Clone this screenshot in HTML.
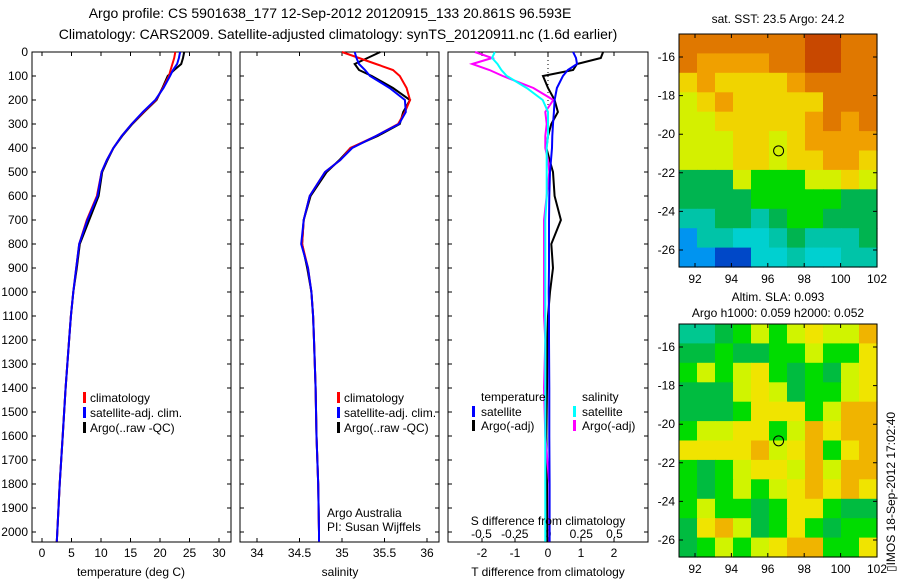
<!DOCTYPE html>
<html><head><meta charset="utf-8"><style>
body{margin:0;background:#fff;}
svg{display:block;font-family:"Liberation Sans",sans-serif;}
</style></head><body>
<svg id="fig" width="900" height="580" viewBox="0 0 900 580">
<text x="330" y="18" font-size="14" text-anchor="middle">Argo profile: CS 5901638_177 12-Sep-2012 20120915_133 20.861S 96.593E</text>
<text x="338" y="39" font-size="14" text-anchor="middle">Climatology: CARS2009. Satellite-adjusted climatology: synTS_20120911.nc (1.6d earlier)</text>
<g id="p1"></g>
<g id="p2"></g>
<g id="p3"></g>
<g id="m1"></g>
<g id="m2"></g>
<text x="778" y="23" font-size="12" text-anchor="middle">sat. SST: 23.5 Argo: 24.2</text>
<text x="778" y="301" font-size="12" text-anchor="middle">Altim. SLA: 0.093</text>
<text x="778" y="317" font-size="12" text-anchor="middle">Argo h1000: 0.059 h2000: 0.052</text>
<text transform="translate(895,572) rotate(-90)" font-size="12">▯IMOS 18-Sep-2012 17:02:40</text>
</svg>
<script>
// ---- data ----
const depths = [0,25,50,75,100,150,200,250,300,350,400,450,500,600,700,800,900,1000,1100,1200,1400,1600,1800,2000,2040];
const tempClim = [22.6,22.4,22.1,21.8,21.5,20.5,19.3,17.2,15.2,13.5,12.1,11.0,10.1,9.3,7.6,6.3,5.8,5.3,4.9,4.6,4.0,3.5,3.0,2.6,2.5];
const tempSat = [23.4,23.2,22.9,22.2,21.7,20.6,19.2,17.1,15.2,13.5,12.1,11.0,10.1,9.4,7.7,6.3,5.8,5.3,4.9,4.6,4.0,3.5,3.0,2.6,2.5];
const tempArgo = [24.1,23.9,23.6,22.4,21.3,20.4,19.4,17.3,15.3,13.6,12.1,11.1,10.2,9.6,8.0,6.4,5.9,5.3,4.9,4.6,4.0,3.5,3.0,2.6,2.5];
const salClim = [35.0,35.2,35.4,35.6,35.68,35.76,35.8,35.74,35.66,35.4,35.1,34.98,34.8,34.62,34.55,34.53,34.6,34.64,34.66,34.67,34.69,34.7,34.72,34.73,34.73];
const salSat = [35.15,35.17,35.2,35.27,35.33,35.56,35.74,35.75,35.67,35.4,35.12,34.98,34.8,34.62,34.55,34.52,34.6,34.64,34.66,34.67,34.69,34.7,34.72,34.73,34.73];
const salArgo = [35.45,35.3,35.15,35.2,35.35,35.6,35.8,35.72,35.68,35.42,35.1,34.97,34.82,34.63,34.55,34.53,34.59,34.64,34.66,34.67,34.69,34.7,34.72,34.73,34.73];
const dTSat = [0.76,0.85,0.88,0.6,0.45,0.27,0.2,0.18,0.15,0.13,0.12,0.09,0.06,0.04,0.03,0.03,0.03,0.02,0.03,0.03,0.04,0.04,0.05,0.05,0.05];
const dTArgo = [1.67,1.6,0.88,0.76,-0.15,0.0,0.2,0.3,0.1,0.0,-0.05,0.05,0.15,0.2,0.39,0.1,0.15,0.06,0.0,-0.02,-0.03,-0.05,-0.03,-0.02,-0.02];
const dSArgo = [-0.55,-0.42,-0.57,-0.44,-0.34,-0.11,0.04,-0.02,-0.01,-0.02,-0.02,0.0,0.01,-0.01,-0.03,-0.03,-0.03,-0.03,-0.03,-0.02,-0.03,-0.02,0.01,0.01,0.01];
const dSSat = [-0.4,-0.42,-0.38,-0.35,-0.31,-0.16,-0.04,0.0,0.0,0.0,-0.01,-0.01,-0.01,-0.01,-0.02,-0.02,-0.02,-0.02,-0.02,-0.02,-0.02,-0.02,-0.02,-0.02,-0.02];
const depthTicks = [0,100,200,300,400,500,600,700,800,900,1000,1100,1200,1300,1400,1500,1600,1700,1800,1900,2000];
const tempTicks = [0,5,10,15,20,25,30];
const salTicks = [34,34.5,35,35.5,36];
const dTTicks = [-2,-1,0,1,2];
const dSTicks = [-0.5,-0.25,0,0.25,0.5];
const dSTickLabels = ["-0.5","-0.25","0","0.25","0.5"];
const lonTicks = [92,94,96,98,100,102];
const latTicks = [-16,-18,-20,-22,-24,-26];
const argoLon = 96.593, argoLat = -20.861;
const sstGrid = [
"OOOOOOORROO",
"OooooOORROO",
"YoYYYYoOOOO",
"yYoYYYYYOOO",
"yyYYYYYoOoO",
"yyyYYyYoooo",
"yyyYYyYYooY",
"gggyGGGyyYy",
"ggggGGGGGgg",
"ttggtgGGggg",
"bttcctgtttg",
"bbBBcctcctt"];
const slaGrid = [
"ttgGyGyYyyo",
"ggGggGGyGGY",
"GyGyYGgGgyY",
"gggyYygGGyY",
"gggGYYYGyoo",
"GyyYYGyoYoo",
"YYYYoyYoGYo",
"GgGyYYyoyoo",
"GgGyGyYoYoY",
"GyGGgGYYGgg",
"gYoygGYGgGG",
"gGyGyYooGGY"];
// ---- helpers ----
const NS="http://www.w3.org/2000/svg";
function mk(parent,tag,attrs){const e=document.createElementNS(NS,tag);for(const k in attrs)e.setAttribute(k,attrs[k]);parent.appendChild(e);return e;}
const yTop=52, yPer=0.24, axTop=52, axBot=542;
const yD = d => yTop + d*yPer;
function panelFrame(g,x0,x1,labels){
  const r=mk(g,'rect',{x:x0,y:axTop,width:x1-x0,height:axBot-axTop,fill:'none',stroke:'#000','stroke-width':1});
  
  
  depthTicks.forEach(d=>{
    const l=mk(g,'path',{d:`M${x0},${yD(d)}h4M${x1},${yD(d)}h-4`,stroke:'#000'});
    
    
    if(labels){
      const t=mk(g,'text',{x:x0-4,y:yD(d)+4,'font-size':12,'text-anchor':'end'});
      t.textContent=d;
      
      
    }
  });
}
function xTicks(g,vals,labels,xf,yLab){
  vals.forEach((v,i)=>{
    const l=mk(g,'path',{d:`M${xf(v)},${axBot}v-4M${xf(v)},${axTop}v4`,stroke:'#000'});
    
    
    const t=mk(g,'text',{x:xf(v),y:yLab,'font-size':12,'text-anchor':'middle'});
    t.textContent=labels[i];
    
    
  });
}
function line(g,vals,xf,color,name,w){
  const pts=vals.map((v,i)=>xf(v).toFixed(1)+','+yD(depths[i]).toFixed(1)).join(' ');
  const p=mk(g,'polyline',{points:pts,fill:'none',stroke:color,'stroke-width':w||2});
  
  
}
function text(g,x,y,s,name,anchor){
  const t=mk(g,'text',{x:x,y:y,'font-size':12,'text-anchor':anchor||'start'});
  t.textContent=s;
  
  
}
function legBar(g,x,y,color){
  const r=mk(g,'rect',{x:x,y:y-10,width:3,height:11,fill:color});
  
  
}
// ---- panel 1 ----
const p1=document.getElementById('p1');
const xT = v => 42 + v*5.9;
panelFrame(p1,32,231,true);
xTicks(p1,tempTicks,tempTicks.map(String),xT,557);
line(p1,tempArgo,xT,'#000','argo-temperature-line');
line(p1,tempClim,xT,'#f00','climatology-temperature-line');
line(p1,tempSat,xT,'#00f','satellite-temperature-line');
text(p1,131,576,'temperature (deg C)','x-axis-title','middle');
[['#f00','climatology'],['#00f','satellite-adj. clim.'],['#000','Argo(..raw -QC)']].forEach((e,i)=>{legBar(p1,83,402+i*15,e[0]);text(p1,90,402+i*15,e[1],'legend-entry');});
// ---- panel 2 ----
const p2=document.getElementById('p2');
const xS = v => 257 + (v-34)*85;
panelFrame(p2,240,439,false);
xTicks(p2,salTicks,salTicks.map(String),xS,557);
line(p2,salArgo,xS,'#000','argo-salinity-line');
line(p2,salClim,xS,'#f00','climatology-salinity-line');
line(p2,salSat,xS,'#00f','satellite-salinity-line');
text(p2,340,576,'salinity','x-axis-title','middle');
[['#f00','climatology'],['#00f','satellite-adj. clim.'],['#000','Argo(..raw -QC)']].forEach((e,i)=>{legBar(p2,337,402+i*15,e[0]);text(p2,344,402+i*15,e[1],'legend-entry');});
text(p2,327,517,'Argo Australia','credit-line-1');
text(p2,327,531,'PI: Susan Wijffels','credit-line-2');
// ---- panel 3 ----
const p3=document.getElementById('p3');
const xDT = v => 548 + v*33;
const xDS = v => 548 + v*133;
panelFrame(p3,448,648,false);
xTicks(p3,dTTicks,dTTicks.map(String),xDT,557);
dSTicks.forEach((v,i)=>{const t=mk(p3,'text',{x:xDS(v),y:538,'font-size':12,'text-anchor':'middle'});t.textContent=dSTickLabels[i];});
const dot=mk(p3,'path',{d:`M548,${axTop}V${yD(250)}`,stroke:'#000','stroke-dasharray':'1,3'});


line(p3,dTArgo,xDT,'#000','argo-t-diff-line');
line(p3,dSArgo,xDS,'#f0f','argo-s-diff-line');
line(p3,dSSat,xDS,'#0ff','satellite-s-diff-line');
line(p3,dTSat,xDT,'#00f','satellite-t-diff-line');
text(p3,548,525,'S difference from climatology','s-axis-title','middle');
text(p3,548,576,'T difference from climatology','t-axis-title','middle');
text(p3,481,401,'temperature','legend-heading');
text(p3,582,401,'salinity','legend-heading');
legBar(p3,472,416,'#00f');text(p3,481,416,'satellite','legend-entry');
legBar(p3,472,430,'#000');text(p3,481,430,'Argo(-adj)','legend-entry');
legBar(p3,573,416,'#0ff');text(p3,582,416,'satellite','legend-entry');
legBar(p3,573,430,'#f0f');text(p3,582,430,'Argo(-adj)','legend-entry');
// ---- maps ----
const sstPal={R:'#c84800',O:'#e07800',o:'#f0a000',Y:'#f0d400',y:'#d4f000',G:'#00d800',g:'#00b450',t:'#00c4a8',c:'#00d0d0',b:'#0094f0',B:'#0048c8'};
const slaPal={R:'#f09000',o:'#f0b400',Y:'#f0e400',y:'#d0f400',G:'#00dc00',g:'#00bc40',t:'#00c890'};
function drawMap(id,grid,pal,top){
  const g=document.getElementById(id);
  const L=679,R=877,B=top+233;
  const lonX=v=>695+(v-92)*18.2;
  const cols=grid[0].length, rows=grid.length;
  const cw=(R-L)/cols, ch=(B-top)/rows;
  grid.forEach((row,ri)=>{[...row].forEach((c,ci)=>{
    const r=mk(g,'rect',{x:(L+ci*cw).toFixed(1),y:(top+ri*ch).toFixed(1),width:(cw+0.6).toFixed(1),height:(ch+0.6).toFixed(1),fill:pal[c]});
    
    
  });});
  const f=mk(g,'rect',{x:L,y:top,width:R-L,height:B-top,fill:'none',stroke:'#000'});
  
  
  const ly=v=>top+23+(-16-v)*19.3;
  lonTicks.forEach(v=>{
    const l=mk(g,'path',{d:`M${lonX(v)},${B}v-4M${lonX(v)},${top}v4`,stroke:'#000'});
    
    
    const t=mk(g,'text',{x:lonX(v),y:B+16,'font-size':12,'text-anchor':'middle'});t.textContent=v;
    
    
  });
  latTicks.forEach(v=>{
    const l=mk(g,'path',{d:`M${L},${ly(v)}h4M${R},${ly(v)}h-4`,stroke:'#000'});
    
    
    const t=mk(g,'text',{x:L-4,y:ly(v)+4,'font-size':12,'text-anchor':'end'});t.textContent=v;
    
    
  });
  const c=mk(g,'circle',{cx:lonX(argoLon),cy:ly(argoLat),r:5,fill:'none',stroke:'#000','stroke-width':1});
  
  
}
drawMap('m1',sstGrid,sstPal,34);
drawMap('m2',slaGrid,slaPal,324);
</script>
</body></html>
